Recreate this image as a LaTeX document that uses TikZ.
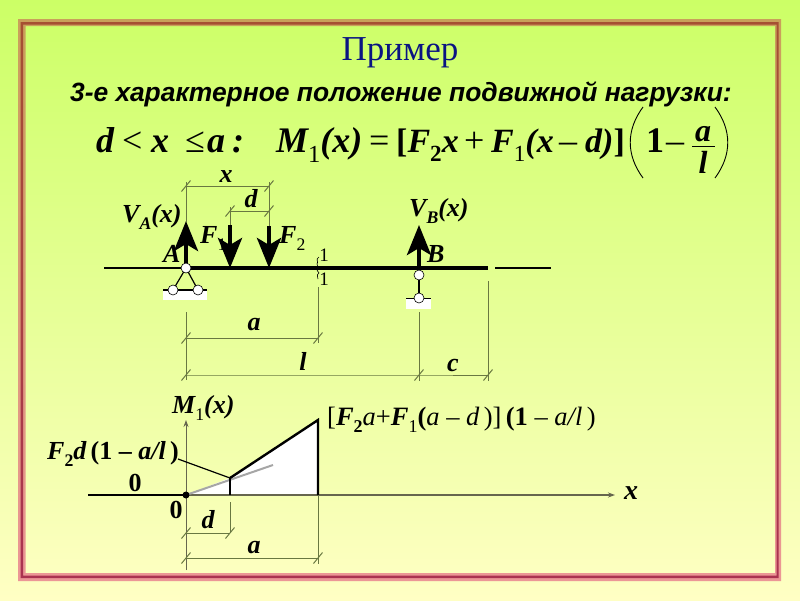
\documentclass[tikz,border=0pt]{standalone}
\usepackage{fontspec}
\setmainfont{Liberation Serif}
\setsansfont{Liberation Sans}
\usetikzlibrary{arrows.meta}
\newcommand{\lowi}[1]{\raisebox{-.28em}{\scalebox{.68}{\upshape\mdseries #1}}}
\newcommand{\lowb}[1]{\raisebox{-.28em}{\scalebox{.68}{\upshape\bfseries #1}}}
\newcommand{\lowit}[1]{\raisebox{-.28em}{\scalebox{.68}{#1}}}
\tikzset{
  formula/.style={anchor=base west,inner sep=0pt,font=\fontsize{34}{34}\selectfont\bfseries\itshape},
  formulaop/.style={anchor=base west,inner sep=0pt,font=\fontsize{36}{36}\selectfont},
  lab/.style={anchor=base west,inner sep=0pt,font=\fontsize{26}{26}\selectfont\bfseries\itshape},
  dimline/.style={draw=dimColor,line width=1pt},
  hinge/.style={circle,draw=black,fill=white,line width=0.6pt,minimum size=10pt,inner sep=0pt},
  force/.style={line width=4.5pt,-{Triangle[length=30pt,width=24pt,inset=7pt]}},
  beam/.style={line width=3.2pt,black},
  thinbeam/.style={line width=1.1pt,black},
  padwhite/.style={fill=white,draw=none}
}
\begin{document}
\begin{tikzpicture}[x=1pt,y=-1pt]
\definecolor{bgTop}{RGB}{204,255,102}
\definecolor{bgBot}{RGB}{255,255,196}
\definecolor{frameTop}{RGB}{201,160,90}
\definecolor{frameBot}{RGB}{236,150,150}
\definecolor{coreTop}{RGB}{165,80,50}
\definecolor{coreBot}{RGB}{170,50,80}
\definecolor{dimColor}{RGB}{105,120,65}
\definecolor{titleColor}{RGB}{10,20,130}

\path[use as bounding box,top color=bgTop,bottom color=bgBot] (0,0) rectangle (800,600);

\path[even odd rule,top color=frameTop,bottom color=frameBot] (18,19) rectangle (781,581) (25.5,26) rectangle (775,573);
\path[even odd rule,top color=coreTop,bottom color=coreBot] (20.5,22) rectangle (778.5,578) (23,24.5) rectangle (776.5,575.5);

\node[anchor=base,inner sep=0pt,text=titleColor,font=\fontsize{35}{35}\selectfont] (title) at (400,60) {Пример};
\node[anchor=base west,inner sep=0pt,font=\sffamily\bfseries\itshape\fontsize{26.4}{27}\selectfont] (subtitle) at (70,101) {3-е характерное положение подвижной нагрузки:};

\node[formula,font=\fontsize{36}{36}\selectfont\bfseries\itshape] (fd) at (96,152) {d};
\node[formulaop] (flt) at (122,152) {<};
\node[formula,font=\fontsize{36}{36}\selectfont\bfseries\itshape] (fx) at (151,152) {x};
\node[formulaop] (fle) at (185,152) {≤};
\node[formula,font=\fontsize{36}{36}\selectfont\bfseries\itshape] (fa) at (207,152) {a};
\node[formula,font=\fontsize{36}{36}\selectfont\bfseries\itshape] (fcol) at (232,152) {:};
\node[formula,font=\fontsize{36}{36}\selectfont\bfseries\itshape] (fm) at (276,152) {M\lowi{1}(x)};
\node[formulaop] (feq) at (369,152) {=};
\node[formula] (fbr) at (396,152) {\upshape[\itshape F\lowb{2}x};
\node[formulaop] (fpl) at (464,152) {+};
\node[formula] (ff) at (491,152) {F\lowi{1}(x};
\node[formulaop] (fmi) at (559,152) {–};
\node[formula] (fdd) at (585,152) {d)\upshape]};
\node[formula,font=\fontsize{36}{36}\selectfont\bfseries] (fone) at (646,152) {1};
\node[formulaop] (fmii) at (666,152) {–};
\node[formula,anchor=base,font=\fontsize{32}{32}\selectfont\bfseries\itshape] (fna) at (703,141) {a};
\node[formula,anchor=base,font=\fontsize{32}{32}\selectfont\bfseries\itshape] (fnl) at (703,173) {l};
\draw[line width=1.1pt] (692,146.5) -- (715,146.5);
\draw[line width=0.9pt] (643,107) .. controls (626,130) and (626,155) .. (643,178);
\draw[line width=0.9pt] (715,107) .. controls (732,130) and (732,155) .. (715,178);

\coordinate (A) at (186,268);
\coordinate (Al) at (173,290);
\coordinate (Ar) at (198,290);
\coordinate (B) at (419,268);
\coordinate (Bh) at (419,275);
\coordinate (Bl) at (419,298);
\coordinate (P1) at (230,268);
\coordinate (P2) at (269,268);
\coordinate (Sec) at (318,268);
\coordinate (End) at (488,268);

\draw[thinbeam] (104,268) coordinate (wl) -- (A);
\draw[thinbeam] (495,268) coordinate (wr) -- (551,268) coordinate (wre);
\path[padwhite] (163,291) rectangle (207,300);
\path[padwhite] (406,299) rectangle (431,309);
\draw[line width=1.2pt] (163,290) coordinate (pa) -- (207,290) coordinate (pb);
\draw[line width=1.2pt] (406,298.5) coordinate (pc) -- (431,298.5) coordinate (pd);

\node[lab] (lVA) at (122,222) {V\lowit{A}(x)};
\node[lab] (lA) at (163,262) {A};
\node[lab] (lF1) at (200,243) {F\lowi{1}};
\node[lab] (lF2) at (279,243) {F\lowi{2}};
\node[lab] (lVB) at (409,216) {V\lowit{B}(x)};
\node[lab] (lB) at (427,262) {B};

\draw[force] (186,264) coordinate (VAs) -- (186,221) coordinate (VAe);
\draw[force] (230,225) coordinate (F1s) -- (P1);
\draw[force] (269,226) coordinate (F2s) -- (P2);
\draw[force] (419,266) coordinate (VBs) -- (419,225) coordinate (VBe);
\draw[beam] (A) -- (End);
\draw[line width=1.2pt] (A) -- (Al) -- (Ar) -- cycle;
\draw[line width=1.2pt] (Bh) -- (Bl);
\node[hinge] (hA) at (A) {};
\node[hinge] (hAl) at (Al) {};
\node[hinge] (hAr) at (Ar) {};
\node[hinge] (hB) at (Bh) {};
\node[hinge] (hBl) at (Bl) {};

\coordinate (xa) at (186,186);
\coordinate (xb) at (269,186);
\coordinate (da) at (230,211);
\coordinate (db) at (269,211);
\coordinate (aa) at (186,338);
\coordinate (ab) at (318,338);
\coordinate (la) at (186,375);
\coordinate (lb) at (419,375);
\coordinate (lc) at (488,375);
\draw[dimline] (xa) -- (xb);
\draw[dimline] (da) -- (db);
\draw[dimline] (aa) -- (ab);
\draw[dimline] (la) -- (lb) -- (lc);
\draw[dimline] (186,182) -- (186,222);
\draw[dimline] (269,182) -- (269,226);
\draw[dimline] (230,207) -- (230,225);
\draw[dimline] (186,312) -- (186,380);
\draw[dimline] (318,287) -- (318,343);
\draw[dimline] (419,312) -- (419,381);
\draw[dimline] (488,281) -- (488,381);
\draw[line width=0.6pt] (319,257) .. controls (315,259) and (319,262) .. (317,264) .. controls (319,266) and (315,270) .. (319,273) .. controls (316,275) and (318,277) .. (318,279);
\node[anchor=base,inner sep=0pt,font=\fontsize{19}{19}\selectfont] (s1) at (324,261) {1};
\node[anchor=base,inner sep=0pt,font=\fontsize{19}{19}\selectfont] (s2) at (324,285) {1};

\node[lab,anchor=base] (lx) at (226,182) {x};
\node[lab,anchor=base] (ld) at (251,207) {d};
\node[lab,anchor=base] (la1) at (254,330) {a};
\node[lab,anchor=base] (ll) at (303,370) {l};
\node[lab,anchor=base] (lc1) at (453,371) {c};

% moment diagram
\coordinate (O) at (186,495);
\coordinate (Md) at (230,478);
\coordinate (Ma) at (318,420);
\coordinate (Mb) at (318,495);
\coordinate (Mc) at (230,495);
\path[fill=white] (O) -- (Md) -- (Ma) -- (Mb) -- cycle;
\draw[line width=1.2pt,draw=black!60!bgBot,-{Stealth[length=7pt,width=5pt]}] (O) -- (615,495) coordinate (xe);
\draw[line width=0.9pt,draw=black!60!bgBot,-{Stealth[length=7pt,width=5pt]}] (186,570) coordinate (ys) -- (186,420) coordinate (ye);
\draw[line width=2pt,black!35] (O) -- (273,465) coordinate (gl);
\draw[line width=1.2pt,black] (178,459) coordinate (lead) -- (Md);
\draw[line width=2pt,black] (88,495) coordinate (zl) -- (O);
\draw[line width=2.4pt,black] (Md) -- (Ma) -- (Mb);
\draw[line width=2.4pt,black] (Md) -- (Mc);
\fill[black] (O) circle (3.5);

\coordinate (da2) at (186,533);
\coordinate (db2) at (230,533);
\coordinate (aa2) at (186,558);
\coordinate (ab2) at (318,558);
\draw[dimline] (da2) -- (db2);
\draw[dimline] (aa2) -- (ab2);
\draw[dimline] (230,502) -- (Mc |- db2);
\draw[dimline] (318,495) -- (318,564);

\foreach \tick in {xa,xb,da,db,aa,ab,la,lb,lc,da2,db2,aa2,ab2}
  \draw[dimline,shift={(\tick)}] (-4.5,5.5) -- (4.5,-5.5);

\node[lab] (lM) at (172,413) {M\lowi{1}(x)};
\node[lab] (lFd) at (47,459) {F\lowb{2}d\,\upshape(1 – \itshape a/l\,\upshape)};
\node[lab,font=\fontsize{26.5}{26.5}\selectfont\itshape] (lFa) at (327,425) {\upshape[\bfseries\itshape F\lowb{2}\mdseries a\upshape+\bfseries\itshape F\lowi{1}\upshape(\itshape\mdseries a – d\,\upshape)]\,\bfseries(1 \mdseries– \itshape a/l\,\upshape)};
\node[lab,anchor=base] (l0a) at (135,491) {\upshape 0};
\node[lab,anchor=base] (l0b) at (176,518) {\upshape 0};
\node[lab,anchor=base] (ld2) at (208,528) {d};
\node[lab,anchor=base] (la2) at (254,553) {a};
\node[lab,anchor=base,font=\fontsize{28}{28}\selectfont\bfseries\itshape] (lxx) at (631,499) {x};
\end{tikzpicture}
\end{document}
